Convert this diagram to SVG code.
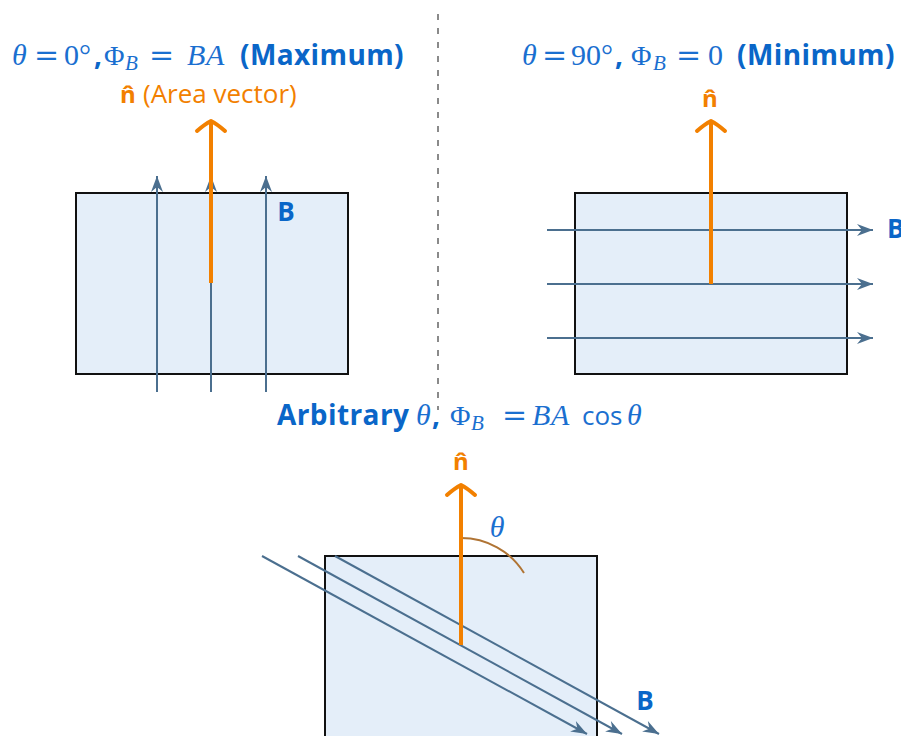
<svg xmlns="http://www.w3.org/2000/svg" width="901" height="736" viewBox="0 0 901 736">
<style>
.plate{fill:#e4eef9;stroke:#111;stroke-width:2}
.field{stroke:#4b6f8f;stroke-width:2;fill:none}
.normal{stroke:#f28000;stroke-width:4;fill:none;stroke-linecap:butt}
.head{stroke:#f28000;stroke-width:4;fill:none;stroke-linecap:round;stroke-linejoin:round}
.m{font-family:"Liberation Serif","DejaVu Serif",serif;font-size:30px;fill:#1a6fd0}
.phi{font-family:"Liberation Serif","DejaVu Serif",serif;font-size:28px;fill:#1a6fd0}
.eq{font-family:"DejaVu Serif",serif;font-size:30px;fill:#1a6fd0}
.sub{font-family:"Liberation Serif","DejaVu Serif",serif;font-size:21px;font-style:italic;fill:#1a6fd0}
.i{font-style:italic}
.b{font-family:"Open Sans","Noto Sans",sans-serif;font-weight:bold;font-size:28px;letter-spacing:0.4px;fill:#0a66c8}
.cos{font-family:"Open Sans","Noto Sans",sans-serif;font-size:26px;fill:#1a6fd0}
.lbl{font-family:"Open Sans","Noto Sans",sans-serif;font-weight:bold;font-size:26px;fill:#0a66c8}
.nh{font-family:"Open Sans","Noto Sans",sans-serif;font-weight:bold;font-size:24px;fill:#f28000}
.av{font-family:"Open Sans","Noto Sans",sans-serif;font-size:26px;fill:#f28000}
</style>
<defs>
<marker id="arr" markerUnits="userSpaceOnUse" viewBox="-17 -7 18 14" refX="0" refY="0" markerWidth="18" markerHeight="14" orient="auto">
<path d="M0,0 L-16,-6 L-11,0 L-16,6 Z" fill="#4b6f8f"/>
</marker>
</defs>

<g id="divider">
<line x1="438" y1="14" x2="438" y2="410" stroke="#8a8a8a" stroke-width="2" stroke-dasharray="6 8"/>
</g>

<g id="panel-max">
<text y="65"><tspan class="m i" x="12">θ</tspan><tspan class="eq" x="34">=</tspan><tspan class="m" x="64">0°</tspan><tspan class="b" x="94">,</tspan><tspan class="phi" x="104">Φ</tspan><tspan class="sub" x="125" y="70">B</tspan><tspan class="eq" x="149" y="65">=</tspan><tspan class="m i" x="187">B</tspan><tspan class="m i" x="206">A</tspan><tspan class="b" x="240">(Maximum)</tspan></text>
<text y="103"><tspan class="nh" x="120">n̂</tspan><tspan class="av" x="143">(Area vector)</tspan></text>
<rect class="plate" x="76" y="193" width="272" height="181"/>
<text class="lbl" x="286" y="221" text-anchor="middle">B</text>
</g>

<g id="panel-min">
<text y="65"><tspan class="m i" x="522">θ</tspan><tspan class="eq" x="542">=</tspan><tspan class="m" x="571">90°</tspan><tspan class="b" x="615">,</tspan><tspan class="phi" x="631">Φ</tspan><tspan class="sub" x="653" y="70">B</tspan><tspan class="eq" x="676" y="65">=</tspan><tspan class="m" x="708">0</tspan><tspan class="b" x="737">(Minimum)</tspan></text>
<text class="nh" x="710" y="107" text-anchor="middle">n̂</text>
<rect class="plate" x="575" y="193" width="272" height="181"/>
<text class="lbl" x="887" y="238">B</text>
</g>

<g id="panel-arb">
<text y="425"><tspan class="b" x="277">Arbitrary</tspan><tspan class="m i" x="416">θ</tspan><tspan class="b" x="432">,</tspan><tspan class="phi" x="450">Φ</tspan><tspan class="sub" x="471" y="430">B</tspan><tspan class="eq" x="502" y="425">=</tspan><tspan class="m i" x="532">B</tspan><tspan class="m i" x="551">A</tspan><tspan class="cos" x="582">cos</tspan><tspan class="m i" x="627">θ</tspan></text>
<text class="nh" x="461" y="470" text-anchor="middle">n̂</text>
<rect class="plate" x="325" y="556" width="272" height="190"/>
<text class="lbl" x="645" y="710" text-anchor="middle">B</text>
<path d="M461,538 A74,74 0 0 1 524,573" stroke="#b07434" stroke-width="2" fill="none"/>
<text class="m i" x="497" y="537" text-anchor="middle" font-size="23">θ</text>
</g>

<g id="connectors">
<line class="field" x1="157" y1="392" x2="157" y2="176" marker-end="url(#arr)"/>
<line class="field" x1="211" y1="392" x2="211" y2="176" marker-end="url(#arr)"/>
<line class="field" x1="266" y1="392" x2="266" y2="176" marker-end="url(#arr)"/>
<line class="normal" x1="211" y1="283" x2="211" y2="122"/>
<path class="head" d="M197,131 Q205,124 211,121 Q217,124 225,131"/>

<line class="field" x1="547" y1="230" x2="873" y2="230" marker-end="url(#arr)"/>
<line class="field" x1="547" y1="284" x2="873" y2="284" marker-end="url(#arr)"/>
<line class="field" x1="547" y1="338" x2="873" y2="338" marker-end="url(#arr)"/>
<line class="normal" x1="711" y1="284" x2="711" y2="122"/>
<path class="head" d="M697,131 Q705,124 711,121 Q717,124 725,131"/>

<line class="field" x1="262" y1="556" x2="587" y2="734" marker-end="url(#arr)"/>
<line class="field" x1="298" y1="556" x2="622" y2="734" marker-end="url(#arr)"/>
<line class="field" x1="335" y1="556" x2="659" y2="734" marker-end="url(#arr)"/>
<line class="normal" x1="461" y1="645" x2="461" y2="486"/>
<path class="head" d="M447,495 Q455,488 461,485 Q467,488 475,495"/>
</g>
</svg>
